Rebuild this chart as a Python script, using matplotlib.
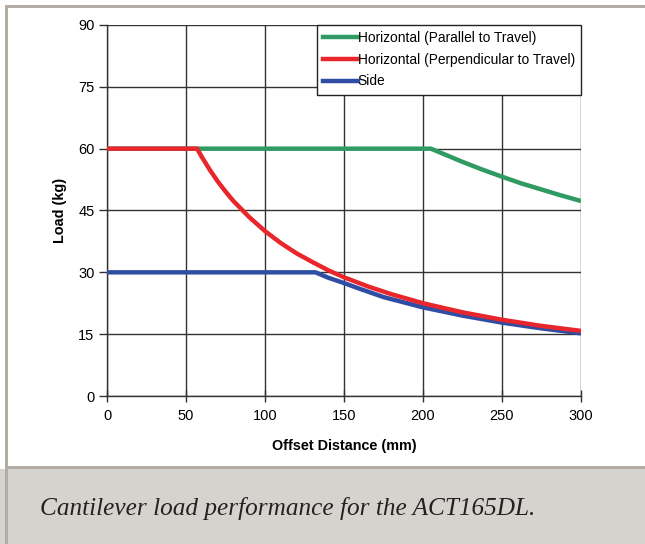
import matplotlib
matplotlib.use("Agg")
import matplotlib.pyplot as plt
from matplotlib.patches import Rectangle
from matplotlib.lines import Line2D

plt.rcParams['font.family'] = ['Liberation Sans', 'DejaVu Sans']

# Data
par_x = [0, 205, 215, 225, 237, 250, 262, 275, 287, 300]
par_y = [60, 60, 58.4, 56.8, 55.0, 53.2, 51.6, 50.1, 48.7, 47.3]

perp_x = [0, 57, 60, 65, 70, 75, 80, 90, 100, 110, 120, 130, 140, 150,
          165, 180, 200, 225, 250, 275, 300]
perp_y = [60, 60, 58.0, 54.9, 52.1, 49.6, 47.3, 43.4, 40.0, 37.1, 34.6, 32.5,
          30.5, 28.8, 26.6, 24.7, 22.5, 20.3, 18.5, 17.0, 15.8]

side_x = [0, 132, 140, 150, 160, 175, 190, 200, 225, 250, 275, 300]
side_y = [30, 30, 28.7, 27.4, 26.0, 24.0, 22.5, 21.5, 19.5, 17.8, 16.4, 15.2]

labels = ["Horizontal (Parallel to Travel)",
          "Horizontal (Perpendicular to Travel)",
          "Side"]
colors = ["#2f9a62", "#e8262c", "#2f4ea3"]

xticks = [0, 50, 100, 150, 200, 250, 300]
yticks = [0, 15, 30, 45, 60, 75, 90]
caption = "Cantilever load performance for the ACT165DL."

fig = plt.figure(figsize=(6.45, 5.44), dpi=100)
W, H = 645, 544
frame_c = "#b3ada3"
band_c = "#d6d3ce"

# caption band
fig.patches.append(Rectangle((0, 0), 1, (544 - 469) / H, transform=fig.transFigure,
                             facecolor=band_c, edgecolor='none', zorder=0))
# separator line
fig.patches.append(Rectangle((6 / W, (544 - 469) / H), 1, 3 / H, transform=fig.transFigure,
                             facecolor=frame_c, edgecolor='none', zorder=1))
# left border
fig.patches.append(Rectangle((5 / W, 0), 3 / W, (544 - 5) / H, transform=fig.transFigure,
                             facecolor=frame_c, edgecolor='none', zorder=1))
# top border
fig.patches.append(Rectangle((5 / W, (544 - 8) / H), 1, 3 / H, transform=fig.transFigure,
                             facecolor=frame_c, edgecolor='none', zorder=1))

ax = fig.add_axes([107 / W, 1 - 396 / H, (581 - 107) / W, (396 - 25) / H])
ax.set_facecolor('white')

lw = 3.2
ax.plot(par_x, par_y, color=colors[0], lw=lw, solid_capstyle='butt', zorder=3)
ax.plot(side_x, side_y, color=colors[2], lw=lw, solid_capstyle='butt', zorder=3)
ax.plot(perp_x, perp_y, color=colors[1], lw=lw, solid_capstyle='butt', zorder=4)

ax.set_xlim(0, 300)
ax.set_ylim(0, 90)
ax.set_xticks(xticks)
ax.set_yticks(yticks)
ax.grid(True, color='#333333', lw=1.0)
ax.set_axisbelow(True)
for s in ['top', 'right']:
    ax.spines[s].set_visible(False)
for s in ['left', 'bottom']:
    ax.spines[s].set_color('#333333')
    ax.spines[s].set_linewidth(1.0)
ax.tick_params(axis='y', direction='out', length=6, width=1, color='#333333',
               labelsize=10.5, pad=3)
ax.tick_params(axis='x', direction='inout', length=8, width=1, color='#333333',
               labelsize=10.5, pad=5)

ax.set_xlabel("Offset Distance (mm)", fontsize=10.4, fontweight='bold', labelpad=12)
ax.set_ylabel("Load (kg)", fontsize=10.4, fontweight='bold', labelpad=8)

handles = [Line2D([0], [0], color=c, lw=3.2) for c in colors]
leg = ax.legend(handles, labels, loc='upper right', bbox_to_anchor=(1.0, 1.0),
                fontsize=9.9, frameon=True, fancybox=False, framealpha=1,
                edgecolor='#222222', borderpad=0.45, handlelength=2.5,
                handletextpad=0.0, labelspacing=0.55, borderaxespad=0)
leg.get_frame().set_linewidth(1.0)

fig.text(40 / W, 1 - 508 / H, caption, fontsize=18.2, style='italic',
         family=['Liberation Serif', 'DejaVu Serif'], color='#222222', va='center')

fig.savefig("out.png", dpi=100)
